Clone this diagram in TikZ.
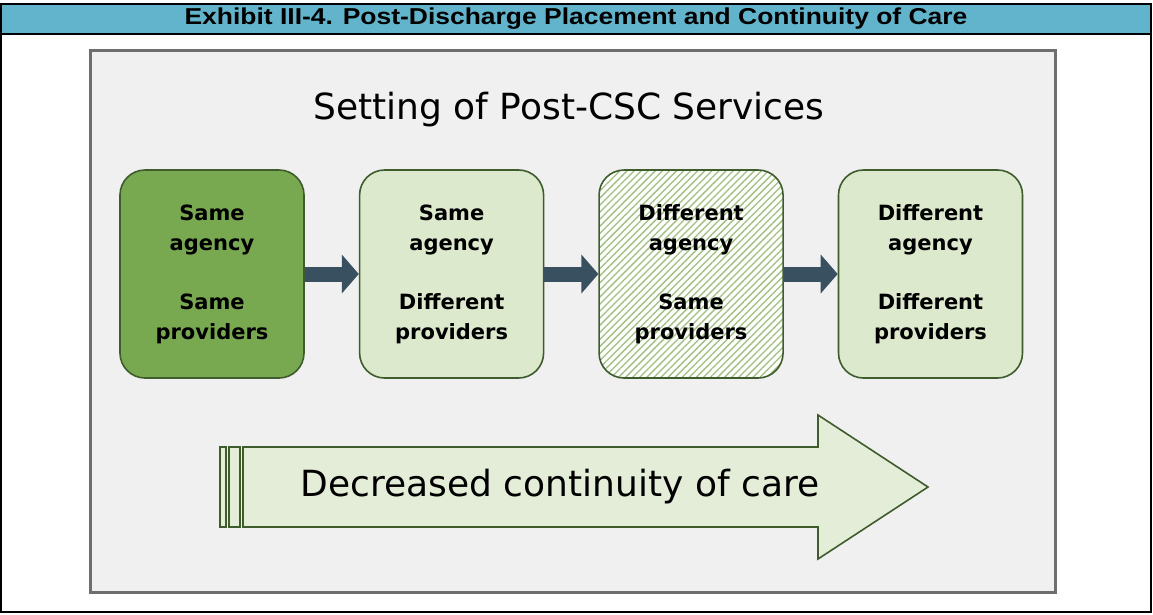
\documentclass[tikz,border=0pt]{standalone}
\usepackage{fontspec}
\setmainfont{DejaVu Sans}
\newfontfamily\headfont[FakeStretch=1.15]{Liberation Sans}
\usetikzlibrary{positioning}
\usetikzlibrary{arrows.meta}
\usetikzlibrary{patterns.meta}
\definecolor{headblue}{RGB}{98,180,204}
\definecolor{panelgray}{RGB}{240,240,240}
\definecolor{panelline}{RGB}{110,110,110}
\definecolor{darkgreen}{RGB}{120,168,80}
\definecolor{lightgreen}{RGB}{220,233,205}
\definecolor{palegreen}{RGB}{227,237,215}
\definecolor{boxline}{RGB}{62,92,44}
\definecolor{hatchgreen}{RGB}{160,190,130}
\definecolor{linknavy}{RGB}{56,80,96}
\begin{document}
\begin{tikzpicture}[x=1pt,y=-1pt,
                          settingbox/.style={rectangle, rounded corners=25pt, draw=boxline, line width=1.6pt, minimum width=184pt, minimum height=208pt, align=center, font=\fontsize{21}{30}\selectfont\bfseries},
                          samebox/.style={settingbox, fill=darkgreen},
                          otherbox/.style={settingbox, fill=lightgreen},
                          hatchbox/.style={settingbox, preaction={fill=white!94!lightgreen}, pattern={Lines[angle=45,distance=5pt,line width=1.3pt]}, pattern color=hatchgreen},
                          link/.style={line width=15pt, draw=linknavy, -{Triangle[length=17pt,width=38pt]}},
                          node distance=54pt,
                      ]
                      \useasboundingbox (0,0) rectangle (1153,614);
                      %Frame
                      \fill[white] (0,0) rectangle (1153,614);
                      \fill[headblue] (1,4) rectangle (1151,34);
                      \draw[line width=2.5pt] (1,4) rectangle (1151,612);
                      \draw[line width=2.5pt] (1,34) -- (1151,34);
                      \node[font=\headfont\fontsize{23}{26}\selectfont\bfseries] (exhibit) at (576,19) {Exhibit III-4. Post-Discharge Placement and Continuity of Care};
                      \draw[draw=panelline, fill=panelgray, line width=3pt] (90,50) rectangle (1055,592);

                      %Nodes
                      \node[font=\fontsize{36}{42}\selectfont] (title) at (569,110) {Setting of Post-CSC Services};
                      \node[samebox]   (same)      at (212,274)        {Same\\agency\\[29pt]Same\\providers};
                      \node[otherbox]  (sameag)    [right=of same]     {Same\\agency\\[29pt]Different\\providers};
                      \node[hatchbox]  (sameprov)  [right=of sameag]   {Different\\agency\\[29pt]Same\\providers};
                      \node[otherbox]  (different) [right=of sameprov] {Different\\agency\\[29pt]Different\\providers};

                      %Lines
                      \draw[link] (same.east) -- (sameag.west);
                      \draw[link] (sameag.east) -- (sameprov.west);
                      \draw[link] (sameprov.east) -- (different.west);

                      %Trend arrow
                      \draw[draw=boxline, fill=palegreen, line width=1.6pt] (243,447) -- (818,447) -- (818,415) -- (928,487) -- (818,559) -- (818,527) -- (243,527) -- cycle;
                      \draw[draw=boxline, fill=palegreen, line width=1.6pt] (220,447) rectangle (226,527);
                      \draw[draw=boxline, fill=palegreen, line width=1.6pt] (229,447) rectangle (240,527);
                      \node[font=\fontsize{36}{42}\selectfont] (trend) at (560,487) {Decreased continuity of care};
                  \end{tikzpicture}
\end{document}
